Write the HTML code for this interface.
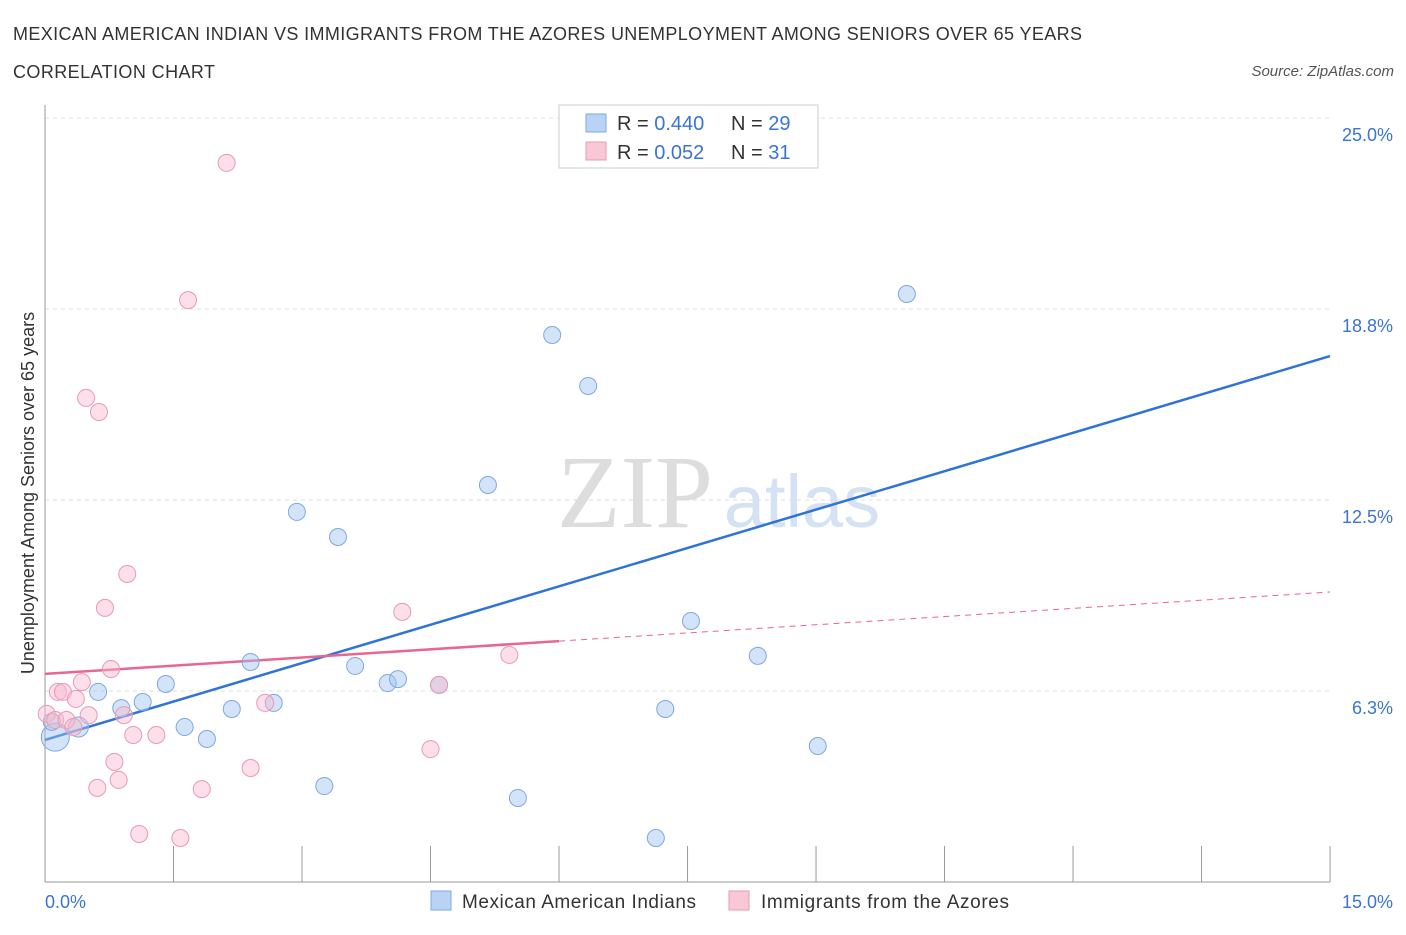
<!DOCTYPE html>
<html><head><meta charset="utf-8"><style>
body{margin:0;background:#fff;font-family:"Liberation Sans",sans-serif;}
</style></head><body>
<svg width="1406" height="930" xmlns="http://www.w3.org/2000/svg">
<text x="13" y="40" font-size="18" textLength="1069" fill="#333">MEXICAN AMERICAN INDIAN VS IMMIGRANTS FROM THE AZORES UNEMPLOYMENT AMONG SENIORS OVER 65 YEARS</text>
<text x="13" y="78" font-size="18" textLength="202" fill="#333">CORRELATION CHART</text>
<text x="1394" y="76" font-size="15" fill="#555" font-style="italic" text-anchor="end">Source: ZipAtlas.com</text>
<text x="635" y="527" font-size="104" fill="#ddd" font-family="Liberation Serif,serif" text-anchor="middle">ZIP</text>
<text x="802" y="527" font-size="74" fill="#d4e2f3" text-anchor="middle">atlas</text>
<g id="grid"></g><g id="axes"></g><g id="lines"></g><g id="pts"></g>
<text transform="translate(34,493) rotate(-90)" font-size="18" fill="#333" text-anchor="middle">Unemployment Among Seniors over 65 years</text>
<text x="45" y="908" font-size="18" fill="#3a74d4">0.0%</text>
<text x="1393" y="908" font-size="18" fill="#3a74d4" text-anchor="end">15.0%</text>
<g>
<rect x="559" y="105" width="259" height="63" fill="#fff" stroke="#ccc"/>
<rect x="586" y="114" width="20" height="18" fill="#b9d3f5" stroke="#7fa8e0"/>
<rect x="586" y="142" width="20" height="18" fill="#f9c8d6" stroke="#e89ab3"/>
<text x="617" y="130" font-size="20" fill="#333">R = <tspan fill="#3a74d4">0.440</tspan></text>
<text x="731" y="130" font-size="20" fill="#333">N = <tspan fill="#3a74d4">29</tspan></text>
<text x="617" y="159" font-size="20" fill="#333">R = <tspan fill="#3a74d4"> 0.052</tspan></text>
<text x="731" y="159" font-size="20" fill="#333">N = <tspan fill="#3a74d4"> 31</tspan></text>
</g>
<g>
<rect x="431" y="891" width="20" height="19" fill="#b9d3f5" stroke="#7fa8e0"/>
<text x="462" y="908" font-size="19" textLength="234" fill="#333">Mexican American Indians</text>
<rect x="729" y="891" width="20" height="19" fill="#f9c8d6" stroke="#e89ab3"/>
<text x="761" y="908" font-size="19" textLength="248" fill="#333">Immigrants from the Azores</text>
</g>
</svg>
<script>
const yTicks=[6.25,12.5,18.75,25];
const yTickLabels=["6.3%","12.5%","18.8%","25.0%"];
const blueX=[0.12,0.08,0.39,0.62,0.89,1.14,1.41,1.63,1.89,2.18,2.40,2.67,2.94,3.26,3.42,3.62,4.00,4.12,4.60,5.17,5.52,5.92,6.34,7.13,7.24,7.54,8.32,9.02,10.06];
const blueY=[4.74,5.24,5.07,6.22,5.69,5.89,6.48,5.07,4.68,5.66,7.20,5.86,12.11,3.14,11.29,7.07,6.51,6.64,6.45,12.99,2.75,17.90,16.23,1.44,5.66,8.54,7.40,4.45,19.24];
const pinkX=[0.02,0.12,0.15,0.21,0.25,0.33,0.36,0.43,0.48,0.51,0.61,0.63,0.70,0.77,0.81,0.86,0.92,0.96,1.03,1.10,1.30,1.58,1.67,1.83,2.12,2.40,2.57,4.17,4.50,4.60,5.42];
const pinkY=[5.50,5.30,6.22,6.22,5.30,5.07,5.99,6.54,15.84,5.46,3.08,15.38,8.97,6.97,3.93,3.34,5.46,10.08,4.81,1.57,4.81,1.44,19.04,3.04,23.53,3.73,5.86,8.84,4.35,6.45,7.43];
const blueLine=[4.65,17.21];
const pinkLine=[6.81,9.49];
const NS="http://www.w3.org/2000/svg";
const X=v=>45+v*85.67, Y=v=>882-v*30.56;
function mk(p,t,a){const e=document.createElementNS(NS,t);for(const k in a)e.setAttribute(k,a[k]);document.getElementById(p).appendChild(e);return e;}
yTicks.forEach((t,i)=>{
 const g=mk('grid','line',{x1:45,x2:1330,y1:Y(t),y2:Y(t),stroke:'#ddd','stroke-dasharray':'4,4'});
 
 
 const l=mk('grid','text',{x:1393,y:Y(t)+23,'font-size':18,fill:'#3a74d4','text-anchor':'end'});
 l.textContent=yTickLabels[i];
 
 
});
const ax=mk('axes','line',{x1:45,x2:45,y1:105,y2:882,stroke:'#999'});


const bx=mk('axes','line',{x1:45,x2:1330,y1:882,y2:882,stroke:'#999'});


for(let i=1;i<=10;i++){const t=mk('axes','line',{x1:X(i*1.5),x2:X(i*1.5),y1:846,y2:882,stroke:'#999'});
 
 }
const bl=mk('lines','line',{x1:X(0),y1:Y(blueLine[0]),x2:X(15),y2:Y(blueLine[1]),stroke:'#2f73d8','stroke-width':2.5});


const py=x=>pinkLine[0]+(pinkLine[1]-pinkLine[0])*x/15;
const pl=mk('lines','line',{x1:X(0),y1:Y(py(0)),x2:X(6),y2:Y(py(6)),stroke:'#e8668f','stroke-width':2.5});


const pd=mk('lines','line',{x1:X(6),y1:Y(py(6)),x2:X(15),y2:Y(py(15)),stroke:'#e8668f','stroke-width':1,'stroke-dasharray':'6,5'});


blueX.forEach((x,i)=>{const c=mk('pts','circle',{cx:X(x),cy:Y(blueY[i]),r:i==0?14:(i==2?10:8.5),fill:'rgba(160,195,240,0.45)',stroke:'#7fa8e0','stroke-width':1});
 
 });
pinkX.forEach((x,i)=>{const c=mk('pts','circle',{cx:X(x),cy:Y(pinkY[i]),r:8.5,fill:'rgba(248,185,205,0.45)',stroke:'#e89ab3','stroke-width':1});
 
 });
</script>
</body></html>
